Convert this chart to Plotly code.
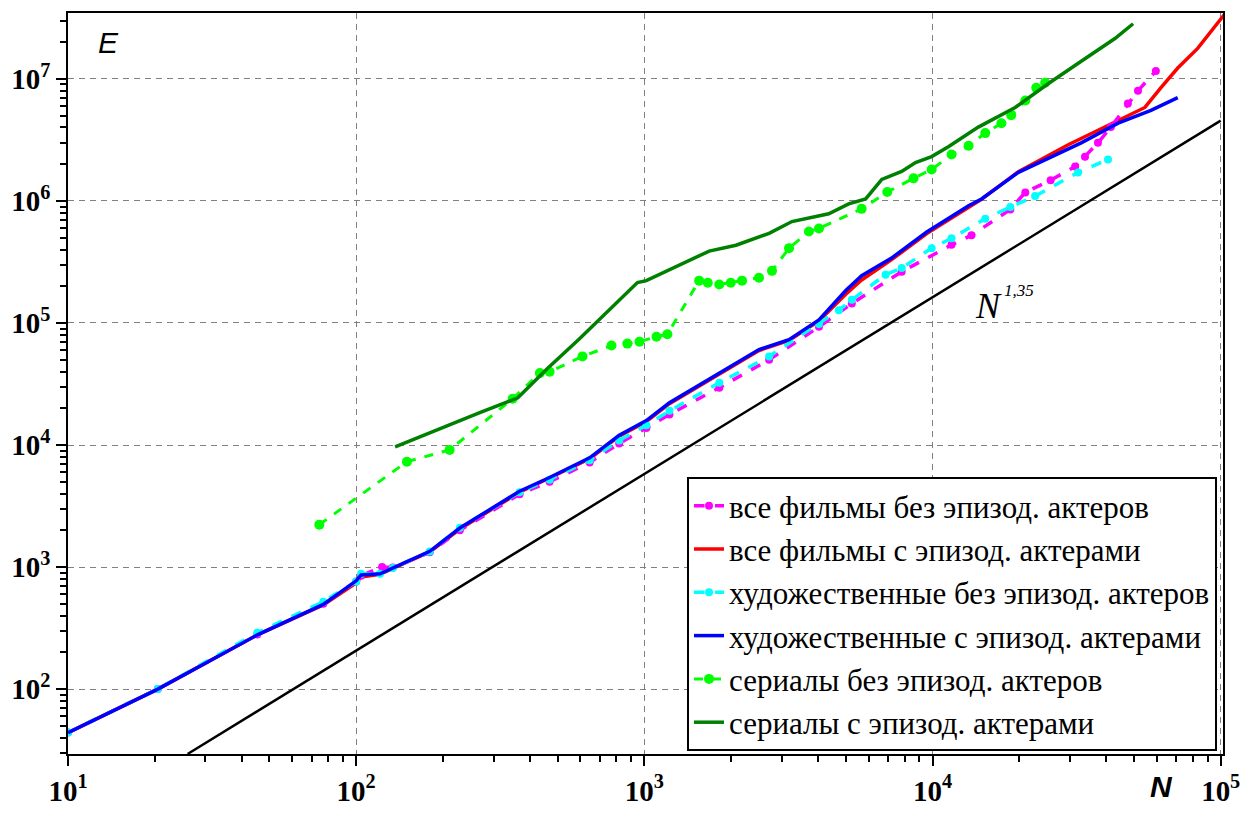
import plotly.graph_objects as go

# ---------------- data ----------------
mag_N = [10, 20.5, 45.4, 76.9, 100, 104, 123, 134, 180, 229, 369, 469, 646, 818, 1016, 1222, 1820, 2710, 4036, 5248, 7816, 11640, 13650, 18620, 20990, 25700, 31260, 33810, 37500, 41590, 47640, 51640, 59570]
mag_E = [44, 100, 280, 500, 760, 850, 1000, 990, 1320, 2000, 3950, 5000, 7200, 10300, 13800, 17800, 29500, 50000, 93000, 144500, 263000, 436500, 522400, 851000, 1175000, 1480000, 1914000, 2307000, 2992000, 4027000, 6281000, 8000000, 11610000]

red_N = [10, 20.5, 45.4, 76.9, 100, 104, 121, 134, 180, 229, 369, 469, 646, 818, 1016, 1222, 1820, 2500, 3177, 4036, 5000, 5675, 7211, 9550, 14790, 19860, 29580, 44060, 54580, 61940, 70960, 83180, 103300]
red_E = [44, 100, 278, 490, 740, 830, 870, 975, 1330, 2050, 4100, 5350, 7700, 11800, 15600, 21800, 38000, 59500, 72000, 104000, 172000, 225000, 330000, 540000, 1030000, 1738000, 2884000, 4571000, 5834000, 8453000, 12270000, 17780000, 34000000]

cyan_N = [10, 20.5, 45.4, 76.9, 100, 104, 121, 134, 180, 229, 369, 469, 646, 818, 1016, 1222, 1820, 2710, 4036, 4732, 5248, 6871, 7816, 9931, 11640, 15240, 18620, 22700, 31990, 40640]
cyan_E = [44, 100, 290, 520, 760, 880, 880, 980, 1340, 2100, 4100, 5200, 7500, 10900, 14500, 19050, 32360, 53200, 98200, 127400, 154900, 248300, 281800, 410200, 494300, 716100, 891300, 1096000, 1714000, 2183000]

blue_N = [10, 20.5, 45.4, 76.9, 100, 104, 121, 134, 180, 229, 369, 469, 646, 818, 1016, 1222, 1820, 2500, 3177, 4036, 5000, 5675, 7211, 9550, 13340, 14790, 19860, 29580, 32810, 44060, 57280, 70960]
blue_E = [44, 100, 278, 494, 771, 861, 881, 982, 1346, 2089, 4180, 5420, 7852, 12020, 15850, 22230, 38820, 60530, 72950, 105700, 184500, 243800, 340400, 555900, 912000, 1038000, 1714000, 2630000, 2992000, 4335000, 5520000, 7030000]

grn_N = [74.5, 150, 211, 349, 434, 469, 610, 769, 873, 962, 1102, 1202, 1549, 1660, 1820, 1995, 2183, 2500, 2773, 3177, 3724, 4036, 5675, 6966, 8590, 9931, 11640, 13340, 15240, 17340, 18750, 20990, 22910, 24600]
grn_E = [2225, 7300, 9120, 23930, 38820, 39800, 53210, 65310, 67760, 70310, 77090, 80720, 222300, 213800, 206500, 213800, 222300, 235000, 267300, 410200, 562300, 594300, 861000, 1183000, 1531000, 1811000, 2399000, 2831000, 3597000, 4335000, 5035000, 6653000, 8453000, 9290000]

dgr_N = [136.5, 206.5, 268.5, 363.9, 458.1, 595.7, 756.8, 946.2, 1016, 1222, 1679, 2080, 2710, 3251, 4365, 5117, 5861, 6668, 7816, 8730, 9931, 11350, 14420, 19360, 25180, 32810, 42950, 49660]
dgr_E = [9638, 14490, 18450, 24380, 41780, 74300, 127400, 214300, 222300, 272300, 388200, 433500, 542000, 677600, 785200, 946200, 1038000, 1503000, 1746000, 2065000, 2307000, 2780000, 4027000, 5834000, 9120000, 13960000, 21430000, 28310000]

ref_N = [26, 100000]
ref_E = [29.4, 4550000]

names = [
    "все фильмы без эпизод. актеров",
    "все фильмы с эпизод. актерами",
    "художественные без эпизод. актеров",
    "художественные с эпизод. актерами",
    "сериалы без эпизод. актеров",
    "сериалы с эпизод. актерами",
]

x_decades = [1, 2, 3, 4, 5]
y_decades = [2, 3, 4, 5, 6, 7]

SERIF = "Liberation Serif, Tinos, Times New Roman, DejaVu Serif, serif"
SANS = "Liberation Sans, Arimo, Arial, DejaVu Sans, sans-serif"

# ---------------- figure ----------------
fig = go.Figure()

def add(xs, ys, name, color, width, dash=None, marker=None, order=0):
    mode = "lines+markers" if marker else "lines"
    tr = go.Scatter(
        x=xs, y=ys, name=name, mode=mode,
        line=dict(color=color, width=width, dash=dash or "solid"),
        legendgroup=name, legendrank=order,
    )
    if marker:
        tr.marker = dict(color=color, size=marker, symbol="circle")
    fig.add_trace(tr)

add(ref_N, ref_E, None, "black", 2.5)
fig.data[-1].showlegend = False
add(red_N, red_E, names[1], "#ff0000", 3.5, order=2)
add(mag_N, mag_E, names[0], "#ff00ff", 3.5, dash="dash", marker=8, order=1)
add(cyan_N, cyan_E, names[2], "#00ffff", 3.5, dash="dash", marker=8, order=3)
add(blue_N, blue_E, names[3], "#0000ff", 3.5, order=4)
add(grn_N, grn_E, names[4], "#00ff00", 3, dash="dash", marker=10, order=5)
add(dgr_N, dgr_E, names[5], "#008000", 3.5, order=6)

def sup_text(d):
    return "10<sup>%d</sup>" % d

minor_x = [m * 10 ** d for d in range(1, 5) for m in range(2, 10)]
minor_y = [m * 10 ** d for d in range(1, 8) for m in range(2, 10)]

axis_common = dict(
    type="log", showline=True, linecolor="black", linewidth=1.5, mirror=True,
    ticks="outside", ticklen=10, tickwidth=1.5, tickcolor="black",
    showgrid=True, gridcolor="#808080", gridwidth=1, griddash="6px,5px",
    zeroline=False,
    tickfont=dict(family=SERIF, size=29, color="black", weight="bold"),
)

fig.update_xaxes(
    range=[1, 5.008],
    tickmode="array",
    tickvals=[10 ** d for d in x_decades],
    ticktext=[sup_text(d) for d in x_decades],
    minor=dict(tickmode="array", tickvals=minor_x, ticks="outside", ticklen=6,
               tickwidth=1.5, tickcolor="black", showgrid=False),
    **axis_common,
)
fig.update_yaxes(
    range=[1.468, 7.54],
    tickmode="array",
    tickvals=[10 ** d for d in y_decades],
    ticktext=[sup_text(d) for d in y_decades],
    minor=dict(tickmode="array", tickvals=minor_y, ticks="outside", ticklen=6,
               tickwidth=1.5, tickcolor="black", showgrid=False),
    **axis_common,
)

def px_note(px, py, text, family, size, style="normal", weight="normal"):
    fig.add_annotation(xref="paper", yref="paper",
                       x=(px - 67) / 1157, y=(764 - py) / 753,
                       xanchor="center", yanchor="middle",
                       text=text, showarrow=False,
                       font=dict(family=family, size=size, color="black",
                                 style=style, weight=weight))

px_note(108, 41, "E", SANS, 30, style="italic")
px_note(1162, 797, "N", SANS, 30, style="italic", weight="bold")
px_note(989, 309, "N", SERIF, 36, style="italic")
px_note(1020, 293, "1,35", SERIF, 17, style="italic")

fig.update_layout(
    width=1251, height=818,
    margin=dict(l=67, r=27, t=11, b=54),
    paper_bgcolor="white", plot_bgcolor="white",
    legend=dict(
        x=(1218 - 67) / 1157, y=(764 - 761) / 753, xanchor="right", yanchor="bottom",
        bgcolor="white", bordercolor="black", borderwidth=2,
        font=dict(family=SERIF, size=31, color="black"),
        traceorder="grouped", tracegroupgap=0,
    ),
)

fig.write_html("out.html")
